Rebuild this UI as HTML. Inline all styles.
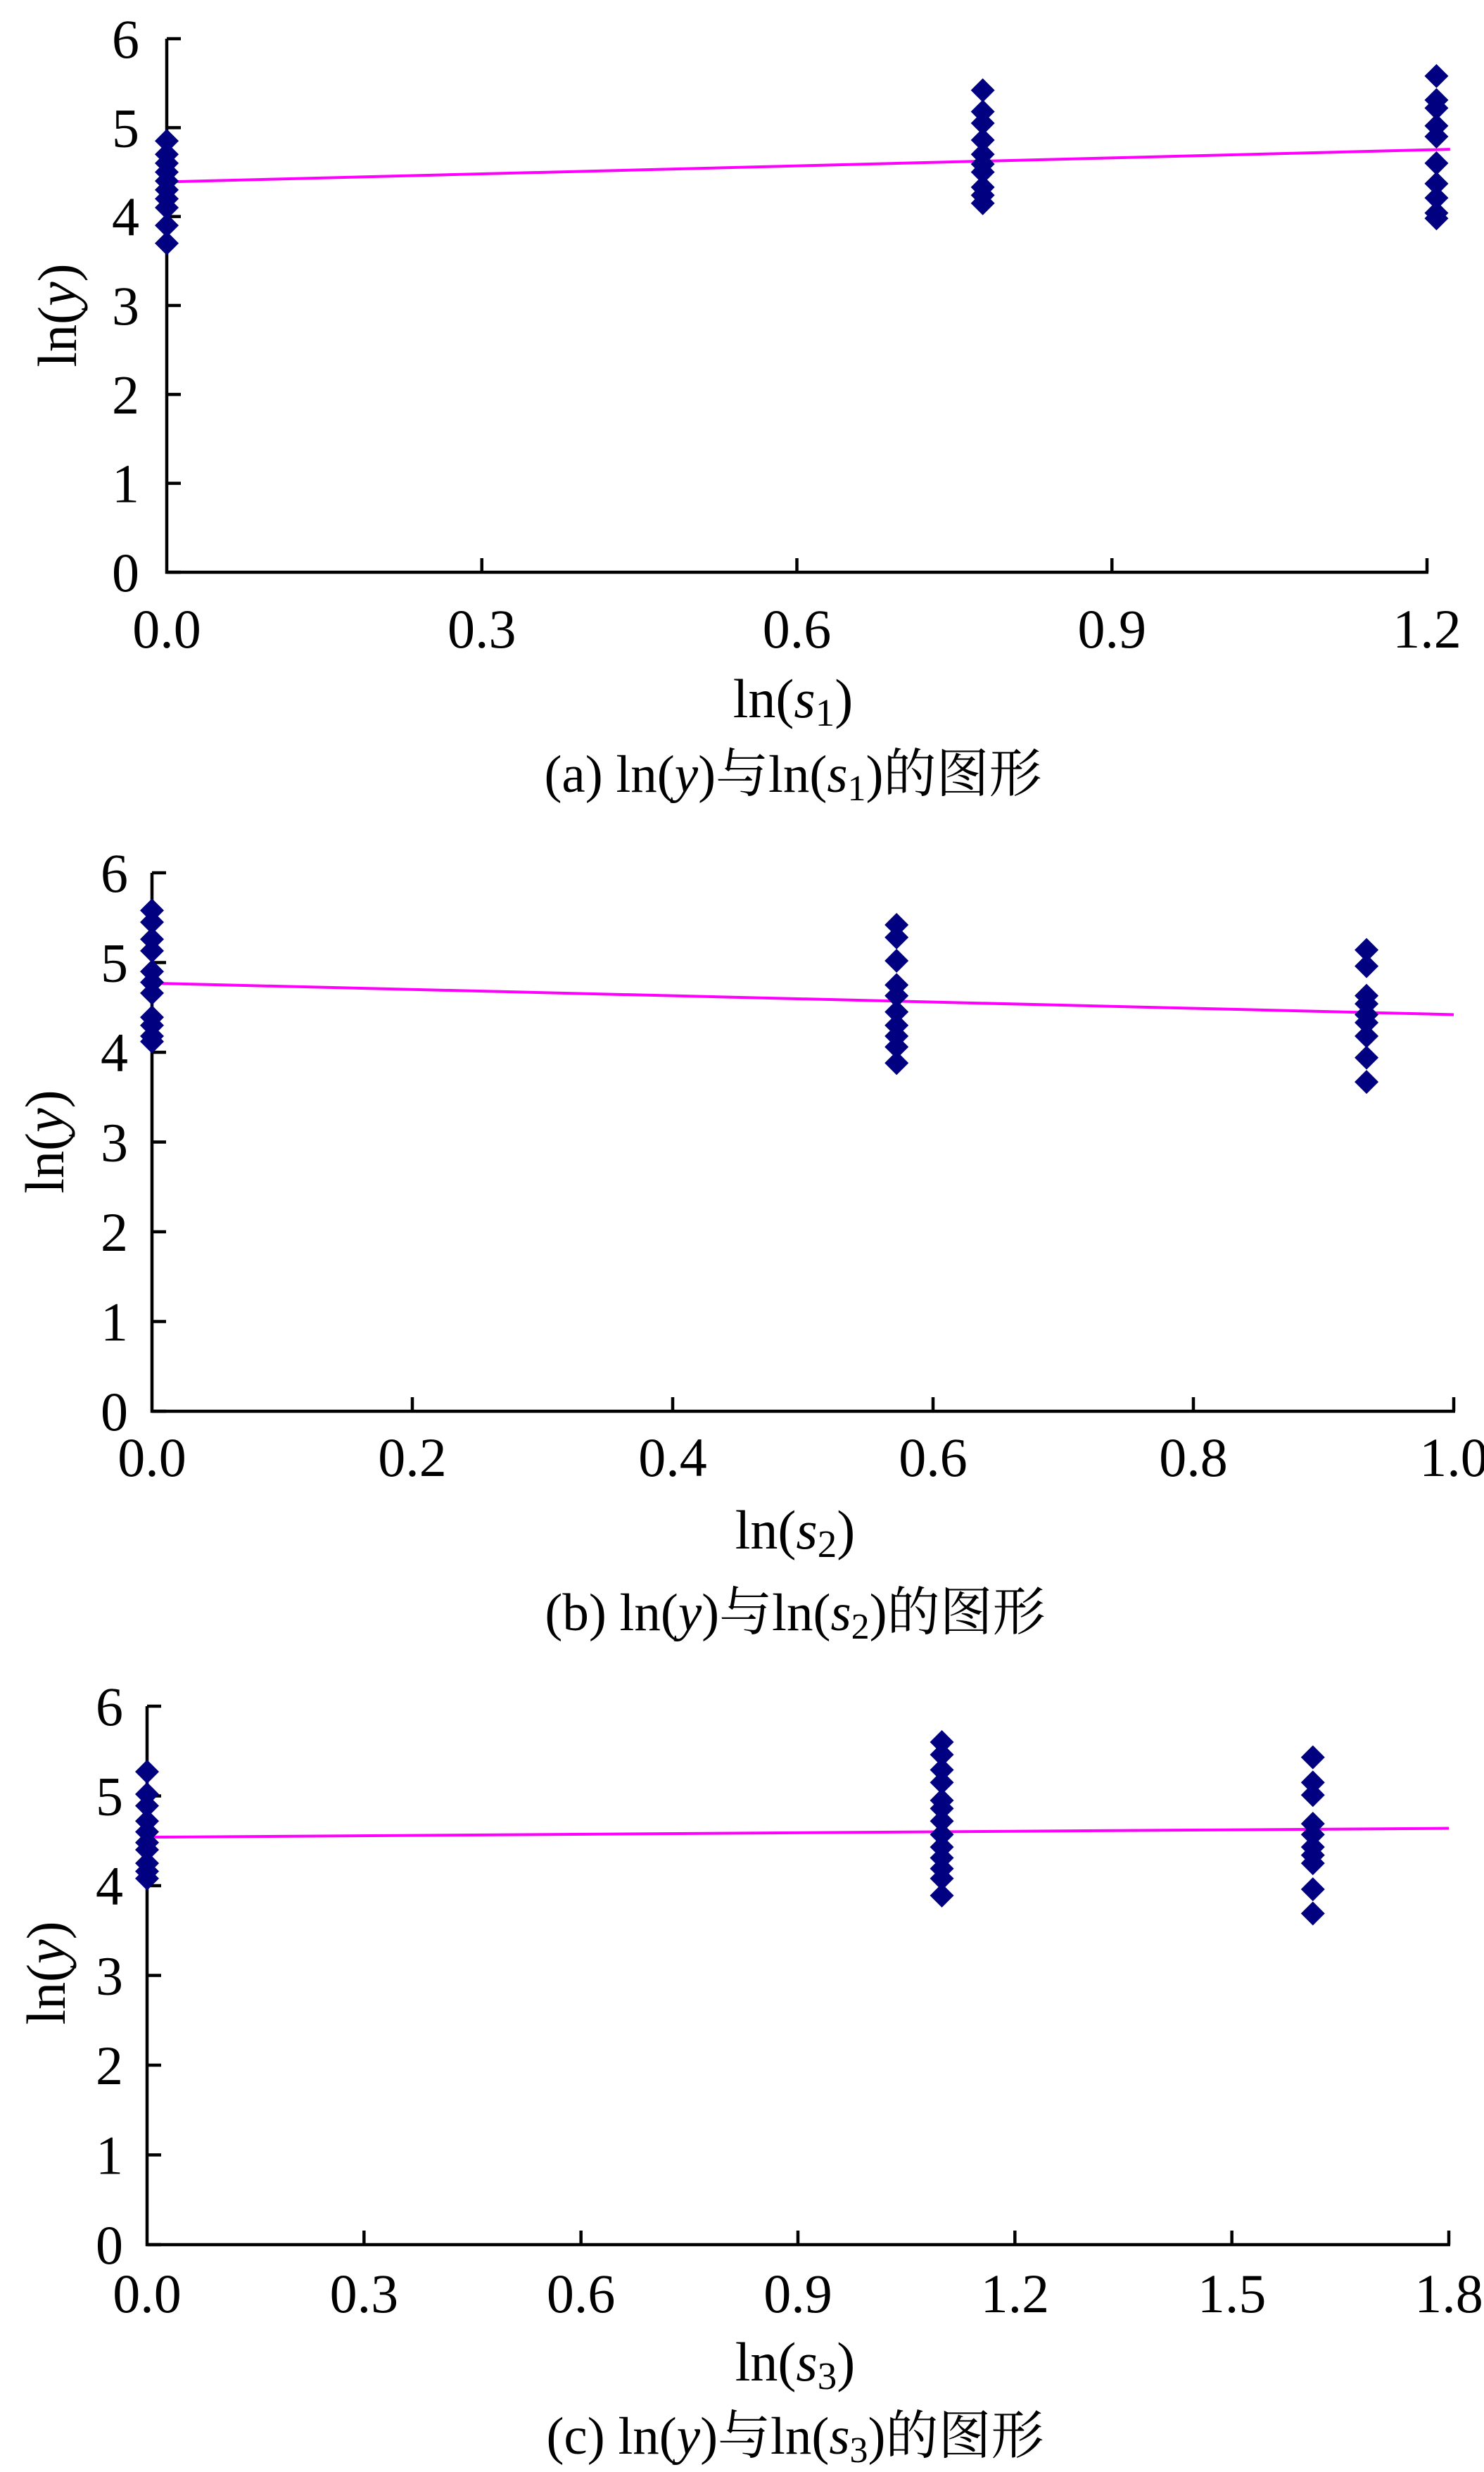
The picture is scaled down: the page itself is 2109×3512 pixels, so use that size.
<!DOCTYPE html>
<html><head><meta charset="utf-8">
<style>
html,body{margin:0;padding:0;background:#fff;}
svg{display:block;}
text{font-family:"Liberation Serif","Noto Serif CJK SC",serif;fill:#000;}
</style></head>
<body>
<svg id="fig" width="2109" height="3512" viewBox="0 0 2109 3512" xmlns="http://www.w3.org/2000/svg"></svg>
<script>
// ---- data ----
const xTicksA = [0.0, 0.3, 0.6, 0.9, 1.2];
const xTicksB = [0.0, 0.2, 0.4, 0.6, 0.8, 1.0];
const xTicksC = [0.0, 0.3, 0.6, 0.9, 1.2, 1.5, 1.8];
const yTicks = [0, 1, 2, 3, 4, 5, 6];

const groupXA = [0, 0.777, 1.209];
const valsA0 = [4.85, 4.7, 4.6, 4.5, 4.4, 4.3, 4.2, 4.1, 3.9, 3.7];
const valsA1 = [5.42, 5.18, 5.05, 4.86, 4.7, 4.59, 4.5, 4.33, 4.24, 4.15];
const valsA2 = [5.58, 5.31, 5.22, 5.02, 4.9, 4.6, 4.37, 4.21, 4.04, 3.98];
const fitA = [4.39, 0.30]; // intercept, slope
const fitRangeA = [0, 1.222];

const groupXB = [0, 0.572, 0.933];
const valsB0 = [5.58, 5.45, 5.26, 5.13, 4.9, 4.78, 4.66, 4.39, 4.30, 4.18, 4.12];
const valsB1 = [5.42, 5.28, 5.02, 4.75, 4.63, 4.45, 4.30, 4.18, 4.06, 3.88];
const valsB2 = [5.14, 4.96, 4.63, 4.54, 4.42, 4.33, 4.18, 3.94, 3.67];
const fitB = [4.77, -0.35];
const fitRangeB = [0, 1.0];

const groupXC = [0, 1.099, 1.612];
const valsC0 = [5.27, 5.02, 4.89, 4.72, 4.6, 4.48, 4.4, 4.25, 4.16, 4.08];
const valsC1 = [5.6, 5.46, 5.29, 5.15, 4.95, 4.86, 4.72, 4.57, 4.43, 4.31, 4.19, 4.08, 3.89];
const valsC2 = [5.43, 5.15, 5.01, 4.69, 4.57, 4.43, 4.34, 4.25, 3.96, 3.69];
const fitC = [4.54, 0.055];
const fitRangeC = [0, 1.8];

const NS = "http://www.w3.org/2000/svg";
const svg = document.getElementById('fig');
function mk(tag, attrs, parent){
  const e = document.createElementNS(NS, tag);
  for (const k in attrs) e.setAttribute(k, attrs[k]);
  (parent||svg).appendChild(e);
  return e;
}

function panel(cfg){
  const g = mk('g', {});
  
  
  const xs = v => cfg.x0 + (v - 0) / cfg.xMax * (cfg.x1 - cfg.x0);
  const ys = v => cfg.y0 + v / 6 * (cfg.y6 - cfg.y0);
  // axes
  const ya = mk('line', {x1: cfg.x0, y1: cfg.y6, x2: cfg.x0, y2: cfg.y0 + 2, stroke: '#000', 'stroke-width': 4.5}, g);
  
  
  const xa = mk('line', {x1: cfg.x0 - 2, y1: cfg.y0, x2: cfg.x1 + 2, y2: cfg.y0, stroke: '#000', 'stroke-width': 4.5}, g);
  
  
  yTicks.forEach(t => {
    const y = ys(t);
    const tk = mk('line', {x1: cfg.x0, y1: y, x2: cfg.x0 + 20, y2: y, stroke: '#000', 'stroke-width': 4.5}, g);
    
    
    const tl = mk('text', {x: cfg.yLabRight, y: y + 27, 'font-size': 78, 'text-anchor': 'end'}, g);
    tl.textContent = String(t);
    
    
  });
  cfg.xTicks.forEach(t => {
    const x = xs(t);
    if (t !== 0) {
      const tk = mk('line', {x1: x, y1: cfg.y0, x2: x, y2: cfg.y0 - 20, stroke: '#000', 'stroke-width': 4.5}, g);
      
      
    }
    const tl = mk('text', {x: x, y: cfg.xLabBase, 'font-size': 78, 'text-anchor': 'middle'}, g);
    tl.textContent = t.toFixed(1);
    
    
  });
  // fit line
  const fl = mk('line', {x1: xs(cfg.range[0]), y1: ys(cfg.fit[0] + cfg.fit[1]*cfg.range[0]),
    x2: xs(cfg.range[1]), y2: ys(cfg.fit[0] + cfg.fit[1]*cfg.range[1]), stroke: '#ff00ff', 'stroke-width': 4}, g);
  
  
  // points
  cfg.groups.forEach((vals, gi) => {
    const cx = xs(cfg.gx[gi]);
    vals.forEach(v => {
      const cy = ys(v);
      const p = mk('polygon', {points: `${cx},${cy-17} ${cx+17},${cy} ${cx},${cy+17} ${cx-17},${cy}`, fill: '#000080'}, g);
      
      
    });
  });
  // y title
  const yt = mk('text', {x: 0, y: 0, 'font-size': 78, 'text-anchor': 'middle',
    transform: `translate(${cfg.ytX + 27},${cfg.ytY}) rotate(-90)`}, g);
  yt.innerHTML = 'ln(<tspan font-style="italic">y</tspan>)';
  
  
  // x title
  const xt = mk('text', {x: cfg.titleX, y: cfg.titleBase, 'font-size': 78, 'text-anchor': 'middle'}, g);
  xt.innerHTML = `ln(<tspan font-style="italic">s</tspan><tspan font-size="55" dy="12">${cfg.sub}</tspan><tspan dy="-12">)</tspan>`;
  
  
  // caption
  const cp = mk('text', {x: cfg.titleX, y: cfg.capBase, 'font-size': 75, 'text-anchor': 'middle'}, g);
  cp.innerHTML = `(${cfg.id}) ln(<tspan font-style="italic">y</tspan>)与ln(<tspan font-style="italic">s</tspan><tspan font-size="52" dy="12">${cfg.sub}</tspan><tspan dy="-12">)的图形</tspan>`;
  
  
}

panel({id:'a', sub:'1', x0:237, x1:2028, xMax:1.2, y0:813, y6:55, xTicks:xTicksA,
  yLabRight:198, xLabBase:920, titleX:1127, titleBase:1019, capBase:1125, ytX:81, ytY:448,
  gx:groupXA, groups:[valsA0, valsA1, valsA2], fit:fitA, range:fitRangeA});
panel({id:'b', sub:'2', x0:216, x1:2066, xMax:1.0, y0:2005, y6:1240, xTicks:xTicksB,
  yLabRight:182, xLabBase:2097, titleX:1130, titleBase:2200, capBase:2316, ytX:63, ytY:1622,
  gx:groupXB, groups:[valsB0, valsB1, valsB2], fit:fitB, range:fitRangeB});
panel({id:'c', sub:'3', x0:209, x1:2059, xMax:1.8, y0:3189, y6:2424, xTicks:xTicksC,
  yLabRight:175, xLabBase:3285, titleX:1130, titleBase:3382, capBase:3486, ytX:65, ytY:2803,
  gx:groupXC, groups:[valsC0, valsC1, valsC2], fit:fitC, range:fitRangeC});
</script>
</body></html>
